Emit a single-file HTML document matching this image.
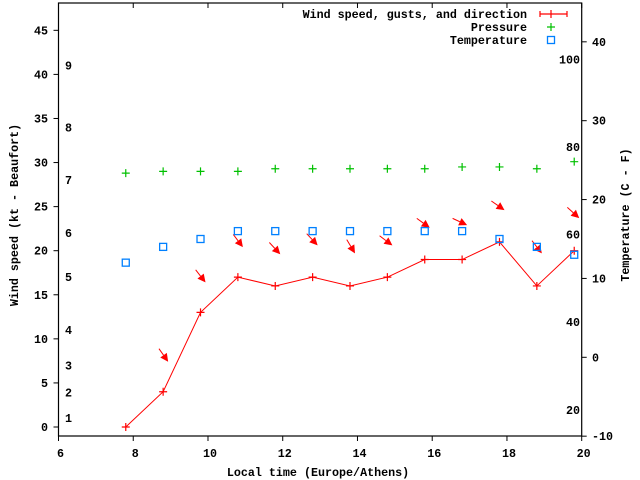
<!DOCTYPE html>
<html><head><meta charset="utf-8"><style>
html,body{margin:0;padding:0;background:#fff}
svg{display:block}
text{font-family:"Liberation Mono",monospace;font-weight:bold;font-size:11.7px;fill:#000}
</style></head><body>
<svg id="chart" width="640" height="480" xmlns="http://www.w3.org/2000/svg">
<rect x="0" y="0" width="640" height="480" fill="#fff"/>
<g id="g"></g>
</svg>
<script>
const times = [7.8, 8.8, 9.8, 10.8, 11.8, 12.8, 13.8, 14.8, 15.8, 16.8, 17.8, 18.8, 19.8];
const windSpeed = [0, 4, 13, 17, 16, 17, 16, 17, 19, 19, 21, 16, 20];
const gusts = [null, 7.4, 16.4, 20.4, 19.6, 20.6, 19.7, 20.6, 22.6, 22.9, 24.6, 19.7, 23.7];
const windDir = [null, 55, 52, 53, 47, 47, 59, 37, 36, 25, 35, 52, 42];
const pressure = [28.8, 29.0, 29.0, 29.0, 29.3, 29.3, 29.3, 29.3, 29.3, 29.5, 29.5, 29.3, 30.1];
const temperature = [12, 14, 15, 16, 16, 16, 16, 16, 16, 16, 15, 14, 13];
const xTicks = [6, 8, 10, 12, 14, 16, 18, 20];
const yTicks = [0, 5, 10, 15, 20, 25, 30, 35, 40, 45];
const cTicks = [-10, 0, 10, 20, 30, 40];
const fTicks = [20, 40, 60, 80, 100];
const beaufortLabels = ['1','2','3','4','5','6','7','8','9'];
const beaufortKt = [1, 3.9, 7, 11, 17, 22, 28, 34, 41];

const L=58.5, R=581.7, T=3, B=436;
const xS = t => L + (t-6)*(R-L)/14;
const yS = v => 427 - v*8.815;
const cS = c => 357.3 - c*7.887;
const fS = f => cS((f-32)*5/9);
const NS='http://www.w3.org/2000/svg';
const g=document.getElementById('g');
function mk(tag, attrs, parent){const e=document.createElementNS(NS,tag);for(const k in attrs)e.setAttribute(k,attrs[k]);(parent||g).appendChild(e);return e;}
function txt(s,x,y,anchor,extra){const e=mk('text',Object.assign({x:x,y:y,'text-anchor':anchor||'start'},extra||{}));e.textContent=s;return e;}

// frame
let e=mk('rect',{x:L,y:T,width:R-L,height:B-T,fill:'none',stroke:'#000','stroke-width':1.2});



xTicks.forEach(t=>{
  const x=xS(t);
  let l=mk('line',{x1:x,y1:B,x2:x,y2:B+5,stroke:'#000'});
  
  
  let l2=mk('line',{x1:x,y1:T,x2:x,y2:T+5,stroke:'#000'});
  
  
  let tx=txt(String(t),x+2,457,'middle');
  
  
});
yTicks.forEach(v=>{
  const y=yS(v);
  let l=mk('line',{x1:L-5,y1:y,x2:L,y2:y,stroke:'#000'});
  
  
  let tx=txt(String(v),48,y+4,'end');
  
  
});
cTicks.forEach(v=>{
  const y=cS(v);
  let l=mk('line',{x1:R,y1:y,x2:R+5,y2:y,stroke:'#000'});
  
  
  let tx=txt(String(v),592,y+4,'start');
  
  
});
fTicks.forEach(v=>{
  let tx=txt(String(v),580,fS(v)+4,'end');
  
  
});
beaufortLabels.forEach((s,i)=>{
  let tx=txt(s,65,yS(beaufortKt[i])+4,'start');
  
  
});

// titles
e=txt('Wind speed (kt - Beaufort)',0,0,'middle',{transform:'translate(18,215) rotate(-90)'});


e=txt('Temperature (C - F)',0,0,'middle',{transform:'translate(629,215) rotate(-90)'});


e=txt('Local time (Europe/Athens)',318,476,'middle');



// wind line
const pts=times.map((t,i)=>xS(t)+','+yS(windSpeed[i])).join(' ');
e=mk('polyline',{points:pts,fill:'none',stroke:'#f00','stroke-width':1});


times.forEach((t,i)=>{
  const x=xS(t),y=yS(windSpeed[i]);
  let p=mk('path',{d:`M${x-4},${y}h8M${x},${y-4}v8`,stroke:'#f00','stroke-width':1.2});
  
  
});
// direction arrows
times.forEach((t,i)=>{
  if(gusts[i]==null) return;
  const hx=xS(t)+5, hy=yS(gusts[i]);
  const a=windDir[i]*Math.PI/180, len=16;
  const tx=hx-len*Math.cos(a), ty=hy-len*Math.sin(a);
  const ux=Math.cos(a),uy=Math.sin(a);
  const bx=hx-8*ux, by=hy-8*uy;
  let grp=mk('g',{});
  
  
  mk('line',{x1:tx,y1:ty,x2:bx,y2:by,stroke:'#f00','stroke-width':1},grp);
  mk('polygon',{points:`${hx},${hy} ${bx-4*uy},${by+4*ux} ${bx+4*uy},${by-4*ux}`,fill:'#f00'},grp);
});
// pressure
times.forEach((t,i)=>{
  const x=xS(t),y=yS(pressure[i]);
  let p=mk('path',{d:`M${x-4},${y}h8M${x},${y-4}v8`,stroke:'#00c000','stroke-width':1.2});
  
  
});
// temperature
times.forEach((t,i)=>{
  const x=xS(t),y=cS(temperature[i]);
  let r=mk('rect',{x:x-3.5,y:y-3.5,width:7,height:7,fill:'none',stroke:'#0080ff','stroke-width':1.3});
  
  
});

// legend
const lg=mk('g',{});


[['Wind speed, gusts, and direction',18],['Pressure',31],['Temperature',44]].forEach(([s,y])=>{
  let tx=txt(s,527,y,'end');
  
  
});
mk('path',{d:'M540,14h27M540,11v6M567,11v6M551,10v8',stroke:'#f00','stroke-width':1.2},lg);
mk('path',{d:'M547,27h8M551,23v8',stroke:'#00c000','stroke-width':1.2},lg);
mk('rect',{x:547.5,y:36.5,width:7,height:7,fill:'none',stroke:'#0080ff','stroke-width':1.3},lg);
</script>
</body></html>
